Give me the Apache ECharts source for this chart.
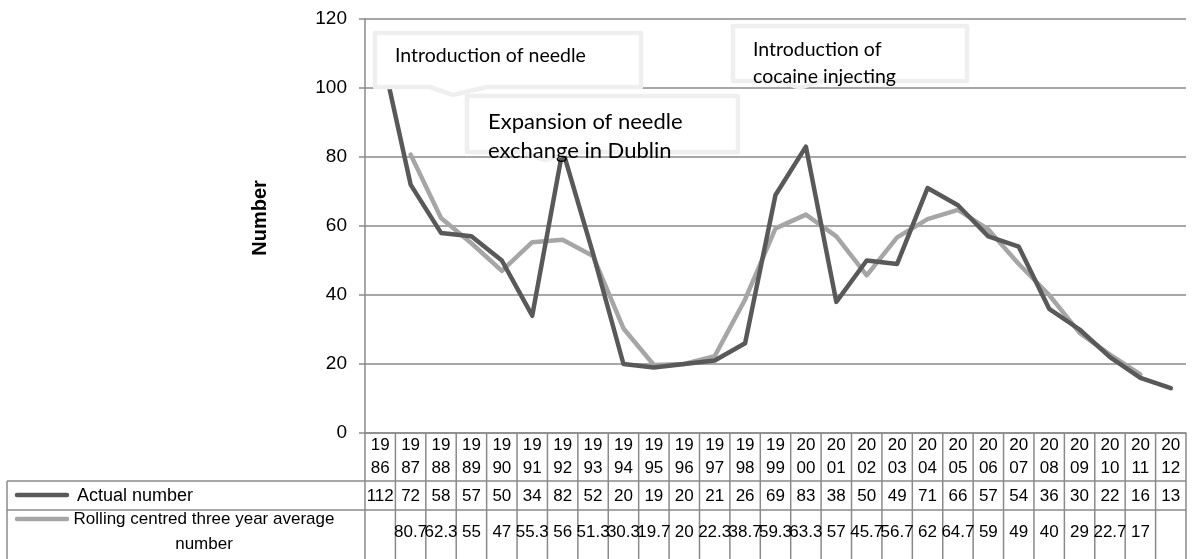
<!DOCTYPE html>
<html><head><meta charset="utf-8">
<script src="https://cdn.jsdelivr.net/npm/echarts@6/dist/echarts.min.js"></script>
<style>html,body{margin:0;padding:0;background:#fff}#c{width:1193px;height:559px}</style>
</head><body><div id="c"></div>
<script>
const years = ['1986','1987','1988','1989','1990','1991','1992','1993','1994','1995','1996','1997','1998','1999','2000','2001','2002','2003','2004','2005','2006','2007','2008','2009','2010','2011','2012'];
const actualNumber = [112,72,58,57,50,34,82,52,20,19,20,21,26,69,83,38,50,49,71,66,57,54,36,30,22,16,13];
const rollingAverage = [null,80.7,62.3,55,47,55.3,56,51.3,30.3,19.7,20,22.3,38.7,59.3,63.3,57,45.7,56.7,62,64.7,59,49,40,29,22.7,17,null];
const rollingLabels = ['', '80.7','62.3','55','47','55.3','56','51.3','30.3','19.7','20','22.3','38.7','59.3','63.3','57','45.7','56.7','62','64.7','59','49','40','29','22.7','17',''];
const yMin = 0, yMax = 120, yInterval = 20;
const seriesNames = ['Actual number', 'Rolling centred three year average number'];
const yAxisTitle = 'Number';
const noteNeedle = 'Introduction of needle';
const noteExchange = 'Expansion of needle\nexchange in Dublin';
const noteCocaine = 'Introduction of\ncocaine injecting';

const DARK = '#595959', LIGHT = '#a6a6a6', GRID = '#8a8a8a';
const TFONT = '"Liberation Sans", Arial, sans-serif';
const CFONT = 'Lato, "Open Sans", sans-serif';

const chart = echarts.init(document.getElementById('c'), null, {renderer: 'canvas'});
chart.setOption({
  animation: false,
  backgroundColor: '#fff',
  grid: {left: 365, right: 7, top: 19, bottom: 126},
  xAxis: {
    type: 'category', data: years, boundaryGap: true,
    axisLine: {show: true, lineStyle: {color: GRID, width: 1.5}},
    axisTick: {show: false}, axisLabel: {show: false}, splitLine: {show: false}
  },
  yAxis: {
    type: 'value', min: yMin, max: yMax, interval: yInterval,
    axisLine: {show: true, lineStyle: {color: GRID, width: 1.5}},
    axisTick: {show: true, length: 6, lineStyle: {color: GRID, width: 1.5}},
    axisLabel: {margin: 18, fontFamily: TFONT, fontSize: 19, color: '#000'},
    splitLine: {show: true, lineStyle: {color: GRID, width: 1.5}}
  },
  series: [
    {name: seriesNames[0], type: 'line', data: actualNumber, showSymbol: false, z: 3,
     lineStyle: {color: DARK, width: 4.5, cap: 'round', join: 'round'}},
    {name: seriesNames[1], type: 'line', data: rollingAverage, showSymbol: false, z: 2,
     lineStyle: {color: LIGHT, width: 4.5, cap: 'round', join: 'round'}}
  ]
});

function px(i) { return chart.convertToPixel({xAxisIndex: 0}, i); }
const c0 = px(0), c1 = px(1);
const colW = c1 - c0;
const left = c0 - colW / 2;
const right = left + colW * years.length;
const yTop = chart.convertToPixel({yAxisIndex: 0}, yMin);
const rowYearBottom = yTop + 48, rowActBottom = rowYearBottom + 29, tableBottom = 575;
const labelLeft = 7;

const g = [];
const lineStyle = {stroke: GRID, lineWidth: 1.5};
function hline(x1, x2, y) { g.push({type: 'line', shape: {x1, y1: y, x2, y2: y}, style: lineStyle, silent: true}); }
function vline(x, y1, y2) { g.push({type: 'line', shape: {x1: x, y1, x2: x, y2}, style: lineStyle, silent: true}); }

hline(labelLeft, right, rowYearBottom);
hline(labelLeft, right, rowActBottom);
vline(labelLeft, rowYearBottom, tableBottom);
for (let i = 0; i <= years.length; i++) vline(left + i * colW, yTop, tableBottom);

function txt(x, y, text, fs, align, extra) {
  g.push(Object.assign({type: 'text', x, y, silent: true,
    style: {text, fontFamily: TFONT, fontSize: fs, fill: '#000', align: align || 'center', verticalAlign: 'middle'}}, extra || {}));
}

years.forEach((yr, i) => {
  const cx = px(i);
  txt(cx, yTop + 12, yr.slice(0, 2), 17);
  txt(cx, yTop + 35, yr.slice(2), 17);
  txt(cx, rowYearBottom + 15, String(actualNumber[i]), 17);
  txt(cx, rowActBottom + 22, rollingLabels[i], 17);
});

// y axis title
txt(260, 218, yAxisTitle, 20, 'center', {rotation: Math.PI / 2});
g[g.length - 1].style.fontWeight = 'bold';

// legend keys in table
g.push({type: 'line', shape: {x1: 17, y1: rowYearBottom + 14, x2: 67, y2: rowYearBottom + 14}, style: {stroke: DARK, lineWidth: 4.5, lineCap: 'round'}, silent: true});
g.push({type: 'line', shape: {x1: 17, y1: rowActBottom + 9, x2: 67, y2: rowActBottom + 9}, style: {stroke: LIGHT, lineWidth: 4.5, lineCap: 'round'}, silent: true});
txt(77, rowYearBottom + 15, seriesNames[0], 18, 'left');
const rl = seriesNames[1].split(' ');
txt(204, rowActBottom + 9, rl.slice(0, 5).join(' '), 17);
txt(204, rowActBottom + 34, rl.slice(5).join(' '), 17);

// callouts
function callout(x0, y0, x1, y1, tl, tip, tr, text, tx, ty, fs, lh) {
  g.push({type: 'polygon', z: 50,
    shape: {points: [[x0, y0], [x1, y0], [x1, y1], [tr, y1], tip, [tl, y1], [x0, y1]]},
    style: {fill: '#fff', stroke: '#efefef', lineWidth: 4.5, lineJoin: 'round'}, silent: true});
  g.push({type: 'text', z: 51, x: tx, y: ty,
    style: {text, fontFamily: CFONT, fontSize: fs, lineHeight: lh, fill: '#000', align: 'left', verticalAlign: 'top'}, silent: true});
}
callout(375, 33, 641, 87, 430, [453, 95], 487, noteNeedle, 395, 42, 19.5, 27);
callout(467, 96, 738, 152, 522, [545, 160], 570, noteExchange, 488, 107, 22, 29);
callout(733, 26, 967, 81, 780, [800, 88], 820, noteCocaine, 753, 36, 19.5, 27);

chart.setOption({graphic: {elements: g}});
</script></body></html>
